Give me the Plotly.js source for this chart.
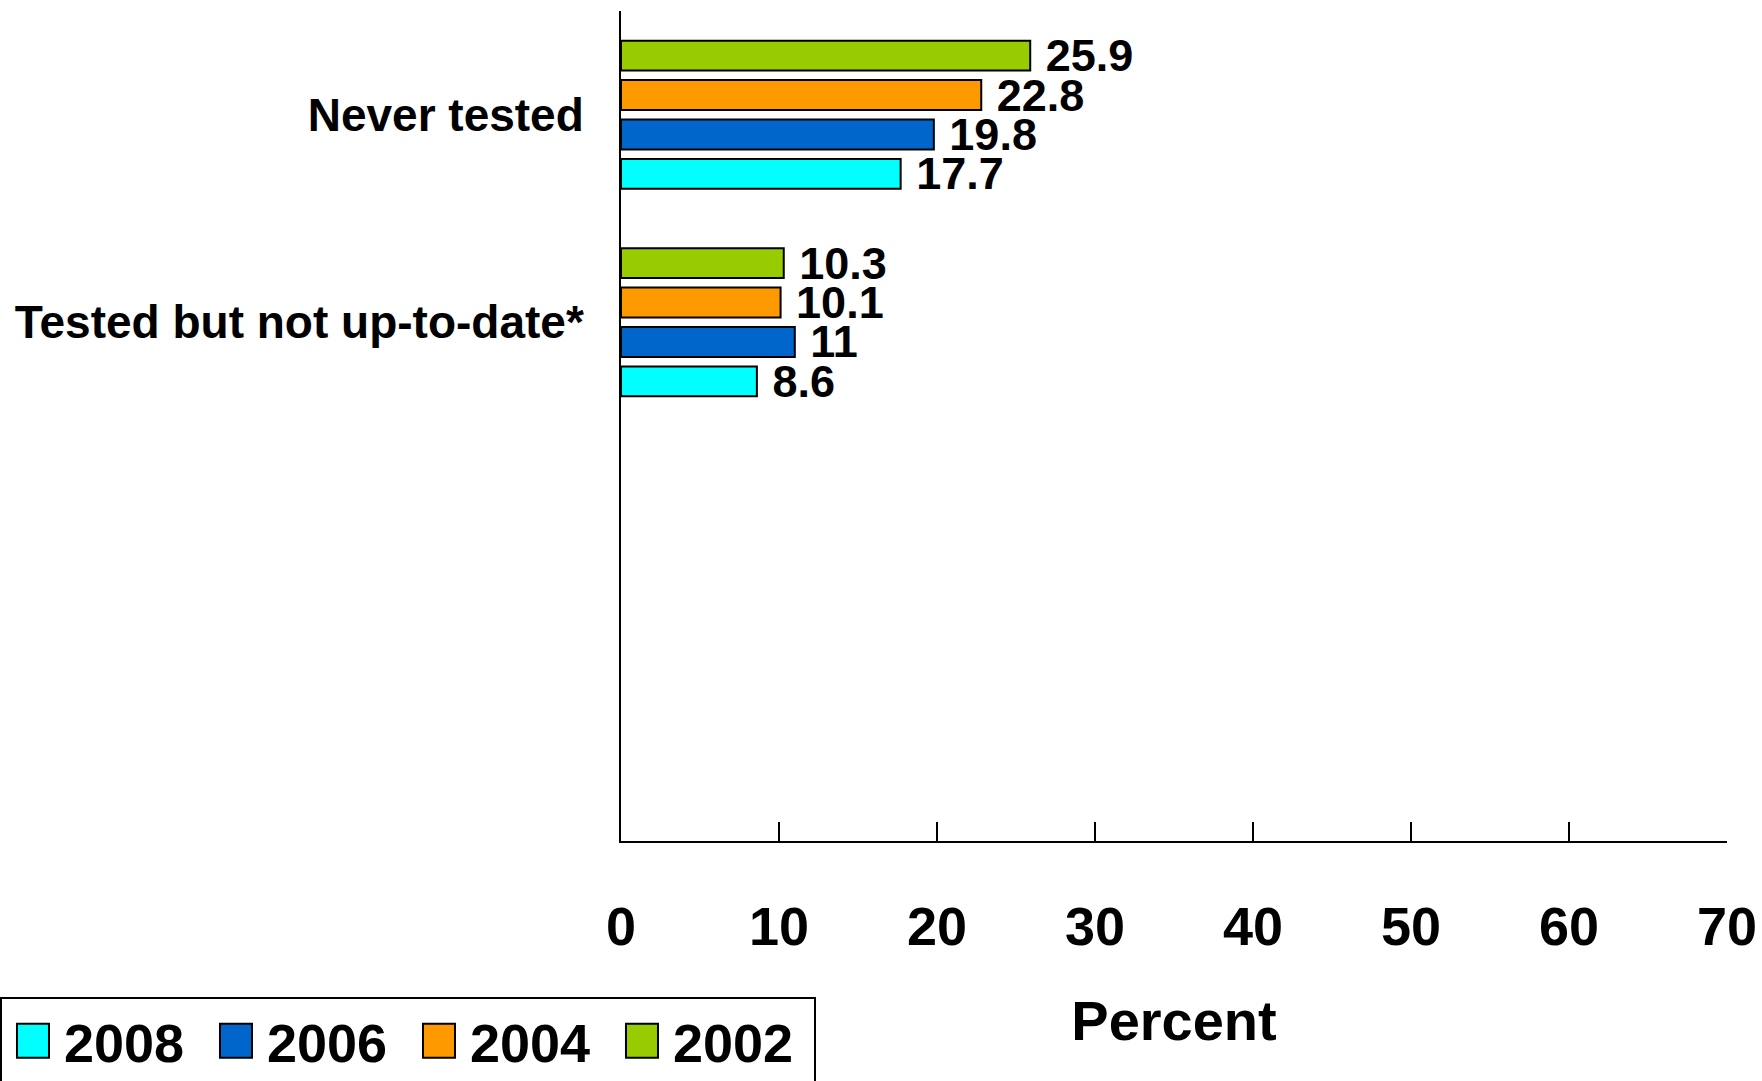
<!DOCTYPE html>
<html>
<head>
<meta charset="utf-8">
<script src="https://cdn.plot.ly/plotly-3.0.1.min.js"></script>
<style>
  html, body { margin: 0; padding: 0; background: #ffffff; }
  #chart { width: 1762px; height: 1081px; }
</style>
</head>
<body>
<div id="chart"></div>
<script>
// ---- data ----
const categories = ["Never tested", "Tested but not up-to-date*"];
const years = ["2002", "2004", "2006", "2008"];
const values2002 = [25.9, 10.3];
const values2004 = [22.8, 10.1];
const values2006 = [19.8, 11];
const values2008 = [17.7, 8.6];
const colors = { "2002": "#99CC00", "2004": "#FF9900", "2006": "#0066CC", "2008": "#00FFFF" };
const xTicks = [0, 10, 20, 30, 40, 50, 60, 70];

const seriesValues = { "2002": values2002, "2004": values2004, "2006": values2006, "2008": values2008 };
const fontFam = "Liberation Sans, Arial, sans-serif";
const NBSP = "\u00a0";

const traces = years.map(y => ({
  type: "bar",
  orientation: "h",
  name: y,
  x: seriesValues[y],
  y: categories,
  text: seriesValues[y].map(v => NBSP + String(v)),
  textposition: "outside",
  constraintext: "none",
  cliponaxis: false,
  textfont: { family: fontFam, size: 45, color: "#000000", weight: "bold" },
  marker: { color: colors[y], line: { color: "#000000", width: 2 } },
  hoverinfo: "none"
}));

const layout = {
  width: 1762,
  height: 1081,
  paper_bgcolor: "#ffffff",
  plot_bgcolor: "#ffffff",
  margin: { l: 621, r: 35, t: 11, b: 240, autoexpand: false },
  barmode: "group",
  bargap: 0.24,
  bargroupgap: 0.24,
  showlegend: true,
  legend: {
    orientation: "h",
    traceorder: "reversed",
    x: -0.5615,
    xanchor: "left",
    y: -0.188,
    yanchor: "top",
    itemwidth: 52,
    entrywidth: 136,
    entrywidthmode: "pixels",
    bgcolor: "#ffffff",
    bordercolor: "#000000",
    borderwidth: 2,
    font: { family: fontFam, size: 54, color: "#000000", weight: "bold" }
  },
  xaxis: {
    range: [0, 70],
    tickvals: xTicks,
    ticktext: xTicks.map(String),
    ticks: "inside",
    ticklen: 19,
    tickwidth: 2,
    tickcolor: "#000000",
    showline: true,
    linecolor: "#000000",
    linewidth: 2,
    showgrid: false,
    zeroline: false,
    ticklabelstandoff: 37,
    tickfont: { family: fontFam, size: 54, color: "#000000", weight: "bold" },
    title: {
      text: "Percent",
      font: { family: fontFam, size: 56, color: "#000000", weight: "bold" },
      standoff: 46
    },
    automargin: false
  },
  yaxis: {
    type: "category",
    categoryorder: "array",
    categoryarray: categories,
    range: [3.5, -0.5],
    showline: true,
    linecolor: "#000000",
    linewidth: 2,
    ticks: "",
    showgrid: false,
    zeroline: false,
    ticklabelstandoff: 26,
    tickfont: { family: fontFam, size: 46, color: "#000000", weight: "bold" },
    automargin: false
  }
};

Plotly.newPlot("chart", traces, layout, { displayModeBar: false, staticPlot: true }).then(gd => {
  // enlarge the legend swatches to match the reference's square markers
  gd.querySelectorAll(".legend .legendpoints path").forEach(p => {
    p.setAttribute("d", "M16,17H-16V-17H16Z");
    p.style.strokeWidth = "2px";
  });
});
</script>
</body>
</html>
